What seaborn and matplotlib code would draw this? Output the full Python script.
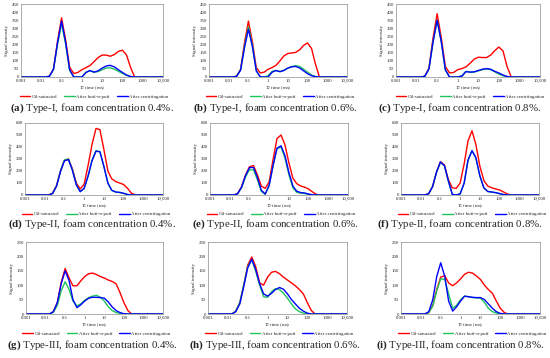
import numpy as np
import pandas as pd
import matplotlib
matplotlib.use("Agg")
import matplotlib.pyplot as plt
import seaborn as sns
from matplotlib.lines import Line2D

sns.set_style("white")
plt.rcParams['font.family'] = ['Liberation Serif', 'DejaVu Serif']
plt.rcParams['mathtext.fontset'] = 'custom'
plt.rcParams['mathtext.rm'] = 'Liberation Serif'
plt.rcParams['mathtext.it'] = 'Liberation Serif:italic'
plt.rcParams['mathtext.bf'] = 'Liberation Serif:bold'

# ---------------- data ----------------
T2 = [0.001, 0.01, 0.016, 0.025, 0.04, 0.063, 0.1, 0.16, 0.25, 0.4, 0.63, 1, 1.6, 2.5,
      4, 6.3, 10, 16, 25, 40, 63, 100, 160, 250, 400, 630, 1000, 10000]

series_names = ["Oil-saturated", "After huff-n-puff", "After centrifugation"]
colors = ["#FF0000", "#1FC45A", "#0000FF"]

a_oil = [0, 0, 0, 5, 50, 220, 365, 225, 60, 22, 28, 45, 58, 70, 95, 120, 135, 135, 128, 138, 158, 165, 135, 60, 0, 0, 0, 0]
a_huff = [0, 0, 0, 4, 45, 200, 330, 200, 40, 0, 0, 0, 30, 38, 30, 33, 45, 55, 57, 48, 35, 22, 10, 3, 0, 0, 0, 0]
a_cent = [0, 0, 0, 4, 48, 210, 345, 210, 45, 0, 0, 0, 28, 40, 30, 38, 55, 68, 72, 62, 45, 28, 12, 3, 0, 0, 0, 0]

b_oil = [0, 0, 0, 5, 48, 210, 345, 215, 58, 25, 30, 48, 58, 72, 100, 130, 145, 148, 152, 168, 195, 210, 175, 80, 0, 0, 0, 0]
b_huff = [0, 0, 0, 4, 45, 190, 310, 195, 40, 0, 0, 8, 35, 40, 33, 42, 55, 65, 70, 65, 48, 30, 12, 3, 0, 0, 0, 0]
b_cent = [0, 0, 0, 4, 42, 180, 295, 185, 38, 0, 0, 0, 30, 40, 33, 40, 55, 63, 65, 55, 38, 20, 8, 2, 0, 0, 0, 0]

c_oil = [0, 0, 0, 5, 55, 240, 390, 240, 65, 25, 28, 45, 52, 62, 85, 110, 122, 120, 120, 135, 162, 185, 160, 65, 0, 0, 0, 0]
c_huff = [0, 0, 0, 4, 50, 215, 350, 215, 45, 0, 0, 0, 8, 35, 30, 30, 38, 45, 50, 45, 32, 18, 8, 2, 0, 0, 0, 0]
c_cent = [0, 0, 0, 4, 50, 215, 350, 215, 45, 0, 0, 0, 5, 33, 30, 32, 40, 48, 52, 48, 35, 25, 12, 3, 0, 0, 0, 0]

d_oil = [0, 0, 0, 15, 80, 200, 290, 300, 220, 100, 50, 90, 250, 420, 555, 545, 380, 200, 135, 112, 100, 88, 55, 15, 0, 0, 0, 0]
d_huff = [0, 0, 0, 12, 78, 200, 292, 300, 212, 86, 28, 55, 162, 288, 370, 362, 238, 98, 38, 24, 20, 13, 3, 0, 0, 0, 0, 0]
d_cent = [0, 0, 0, 12, 75, 195, 285, 295, 210, 85, 28, 55, 160, 285, 365, 360, 240, 100, 40, 25, 22, 15, 4, 0, 0, 0, 0, 0]

e_oil = [0, 0, 0, 12, 70, 165, 235, 245, 170, 75, 55, 110, 300, 470, 500, 420, 270, 140, 95, 75, 65, 50, 25, 5, 0, 0, 0, 0]
e_huff = [0, 0, 0, 10, 60, 150, 210, 210, 130, 30, 5, 80, 250, 385, 400, 310, 170, 60, 22, 15, 12, 5, 0, 0, 0, 0, 0, 0]
e_cent = [0, 0, 0, 10, 65, 160, 228, 230, 150, 40, 8, 80, 250, 390, 410, 330, 190, 75, 32, 20, 17, 8, 1, 0, 0, 0, 0, 0]

f_oil = [0, 0, 0, 10, 70, 190, 278, 250, 130, 60, 55, 100, 260, 450, 535, 420, 240, 120, 75, 60, 50, 42, 25, 8, 0, 0, 0, 0]
f_huff = [0, 0, 0, 10, 70, 188, 272, 243, 118, 5, 0, 8, 98, 288, 368, 308, 158, 58, 28, 24, 19, 11, 3, 0, 0, 0, 0, 0]
f_cent = [0, 0, 0, 10, 70, 190, 275, 245, 120, 5, 0, 10, 100, 290, 370, 310, 160, 60, 30, 25, 20, 12, 3, 0, 0, 0, 0, 0]

g_oil = [0, 0, 0, 8, 40, 110, 158, 125, 98, 98, 115, 130, 140, 142, 137, 130, 125, 118, 113, 105, 75, 40, 12, 0, 0, 0, 0, 0]
g_huff = [0, 0, 0, 6, 30, 80, 112, 85, 45, 28, 35, 48, 57, 62, 65, 58, 45, 25, 12, 5, 2, 0, 0, 0, 0, 0, 0, 0]
g_cent = [0, 0, 0, 8, 40, 105, 150, 115, 50, 22, 32, 45, 55, 58, 58, 57, 55, 42, 25, 12, 5, 1, 0, 0, 0, 0, 0, 0]

h_oil = [0, 0, 0, 10, 40, 100, 170, 198, 165, 108, 100, 128, 145, 148, 140, 128, 118, 108, 98, 85, 70, 40, 12, 0, 0, 0, 0, 0]
h_huff = [0, 0, 0, 10, 40, 100, 165, 188, 150, 100, 60, 58, 78, 88, 85, 72, 55, 35, 18, 8, 3, 0, 0, 0, 0, 0, 0, 0]
h_cent = [0, 0, 0, 8, 35, 95, 160, 190, 155, 105, 70, 62, 72, 85, 92, 86, 70, 50, 35, 20, 10, 3, 0, 0, 0, 0, 0, 0]

i_oil = [0, 0, 0, 5, 30, 85, 128, 133, 108, 98, 108, 122, 138, 145, 142, 132, 120, 100, 85, 72, 45, 20, 5, 0, 0, 0, 0, 0]
i_huff = [0, 0, 0, 5, 28, 80, 122, 120, 70, 20, 30, 50, 62, 60, 57, 56, 55, 40, 20, 8, 3, 0, 0, 0, 0, 0, 0, 0]
i_cent = [0, 0, 0, 8, 50, 130, 178, 130, 45, 10, 25, 45, 62, 60, 58, 57, 57, 50, 35, 20, 8, 2, 0, 0, 0, 0, 0, 0]

xtick_vals = [0.001, 0.01, 0.1, 1, 10, 100, 1000, 10000]
xtick_labels = ["0.001", "0.01", "0.1", "1", "10", "100", "1000", "10,000"]

captions = [
    ("(a)", "Type-I, foam concentration 0.4%."),
    ("(b)", "Type-I, foam concentration 0.6%."),
    ("(c)", "Type-I, foam concentration 0.8%."),
    ("(d)", "Type-II, foam concentration 0.4%."),
    ("(e)", "Type-II, foam concentration 0.6%."),
    ("(f)", "Type-II, foam concentration 0.8%."),
    ("(g)", "Type-III, foam concentration 0.4%."),
    ("(h)", "Type-III, foam concentration 0.6%."),
    ("(i)", "Type-III, foam concentration 0.8%."),
]
panels = [
    (a_oil, a_huff, a_cent), (b_oil, b_huff, b_cent), (c_oil, c_huff, c_cent),
    (d_oil, d_huff, d_cent), (e_oil, e_huff, e_cent), (f_oil, f_huff, f_cent),
    (g_oil, g_huff, g_cent), (h_oil, h_huff, h_cent), (i_oil, i_huff, i_cent),
]
row_ymax = [450, 600, 250]
row_ystep = [50, 100, 50]

# ---------------- layout (pixels) ----------------
W, H = 550, 358
col_lr = [[(21, 163), (209, 347), (396, 540)],
          [(25, 163), (210, 348), (401, 539)],
          [(26, 163), (208, 347), (401, 540)]]
row_tb = [(4, 77), (123, 195), (242, 314)]
legend_y = [97, 214, 334]
caption_y = [108, 224, 345]
caption_x = [92, 275, 460]

fig = plt.figure(figsize=(W / 100, H / 100), dpi=100)
fs = 3.5

for k, (vals, cap) in enumerate(zip(panels, captions)):
    r, c = divmod(k, 3)
    l, rr = col_lr[r][c]
    t, b = row_tb[r]
    ax = fig.add_axes([l / W, 1 - b / H, (rr - l) / W, (b - t) / H])
    df = pd.concat([pd.DataFrame({"T2": T2, "signal": v, "series": n})
                    for v, n in zip(vals, series_names)], ignore_index=True)
    sns.lineplot(data=df, x="T2", y="signal", hue="series", hue_order=series_names,
                 palette=colors, ax=ax, legend=False, linewidth=1.0, sort=False,
                 estimator=None)
    ax.set_xscale("log")
    ax.set_xlim(0.001, 10000)
    ax.set_ylim(0, row_ymax[r])
    ax.set_yticks(np.arange(0, row_ymax[r] + 1, row_ystep[r]))
    ax.set_xticks(xtick_vals)
    ax.set_xticklabels(xtick_labels)
    ax.minorticks_off()
    ax.tick_params(axis="both", labelsize=fs, length=0, pad=1.5)
    for s in ax.spines.values():
        s.set_color("#8c8c8c")
        s.set_linewidth(0.5)
    ax.set_ylabel("Signal intensity", fontsize=fs, labelpad=2)
    ax.set_xlabel(r"$T_2$ time (ms)", fontsize=fs, labelpad=1.0)
    handles = [Line2D([0], [0], color=col, lw=1.0) for col in colors]
    ax.legend(handles, series_names, loc="center", ncol=3, frameon=False,
              fontsize=fs, handlelength=2.2, handletextpad=0.3, columnspacing=1.4,
              bbox_to_anchor=(((l + rr) / 2 + 2) / W, 1 - legend_y[r] / H),
              bbox_transform=fig.transFigure)
    fig.text(caption_x[c] / W, 1 - caption_y[r] / H,
             r"$\mathbf{" + cap[0] + r"}$ " + cap[1],
             ha="center", va="center", fontsize=7.8)

fig.savefig("out.png", dpi=100)
